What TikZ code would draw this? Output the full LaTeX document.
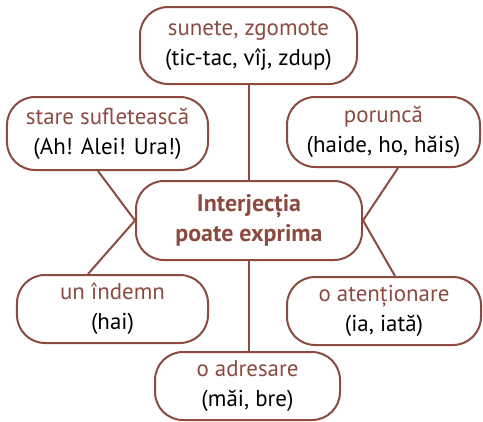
\documentclass[tikz,border=0pt]{standalone}
\usepackage{fontspec}
\setmainfont{PT Sans}
\usetikzlibrary{calc}
\definecolor{inkbrown}{HTML}{8C4B40}
\newcommand{\kind}[2]{{\color{inkbrown}#1}\\#2}

\begin{document}
\begin{tikzpicture}[x=1bp, y=-1bp,
    bubble/.style={draw=inkbrown, line width=2bp, fill=white, rounded corners=28bp,
      align=center, inner sep=0pt, font=\fontsize{23}{30}\selectfont},
    hub/.style={bubble, font=\fontsize{24}{30}\selectfont\bfseries, text=inkbrown},
    link/.style={draw=inkbrown, line width=2bp}]
  \useasboundingbox (0,0) rectangle (483,421);
  \node[hub, minimum width=226bp, minimum height=79bp] (core) at (249,220.5)
    {Interjecția\\poate exprima};
  \node[bubble, minimum width=217bp, minimum height=77bp] (sounds) at (248.5,45.5)
    {\kind{sunete, zgomote}{(tic-tac, vîj, zdup)}};
  \node[bubble, minimum width=201bp, minimum height=73bp] (mood) at (107.5,133.5)
    {\kind{stare sufletească}{(Ah! Alei! Ura!)}};
  \node[bubble, minimum width=193bp, minimum height=70bp] (order) at (383.5,132)
    {\kind{poruncă}{(haide, ho, hăis)}};
  \node[bubble, minimum width=191bp, minimum height=68bp] (urge) at (112.5,309)
    {\kind{un îndemn}{(hai)}};
  \node[bubble, minimum width=194bp, minimum height=68bp] (warn) at (384,311)
    {\kind{o atenționare}{(ia, iată)}};
  \node[bubble, minimum width=185bp, minimum height=68bp] (call) at (247.5,386)
    {\kind{o adresare}{(măi, bre)}};
  % legaturi
  \draw[link] (sounds.south -| core.north) -- (core.north);
  \draw[link] ([xshift=-9.5bp]mood.south) -- (core.west);
  \draw[link] ([xshift=14.5bp]order.south) -- (core.east);
  \draw[link] ([xshift=-24.5bp]urge.north) -- (core.west);
  \draw[link] ([xshift=11bp]warn.north) -- (core.east);
  \draw[link] (core.south) -- (core.south |- call.north);
\end{tikzpicture}
\end{document}
